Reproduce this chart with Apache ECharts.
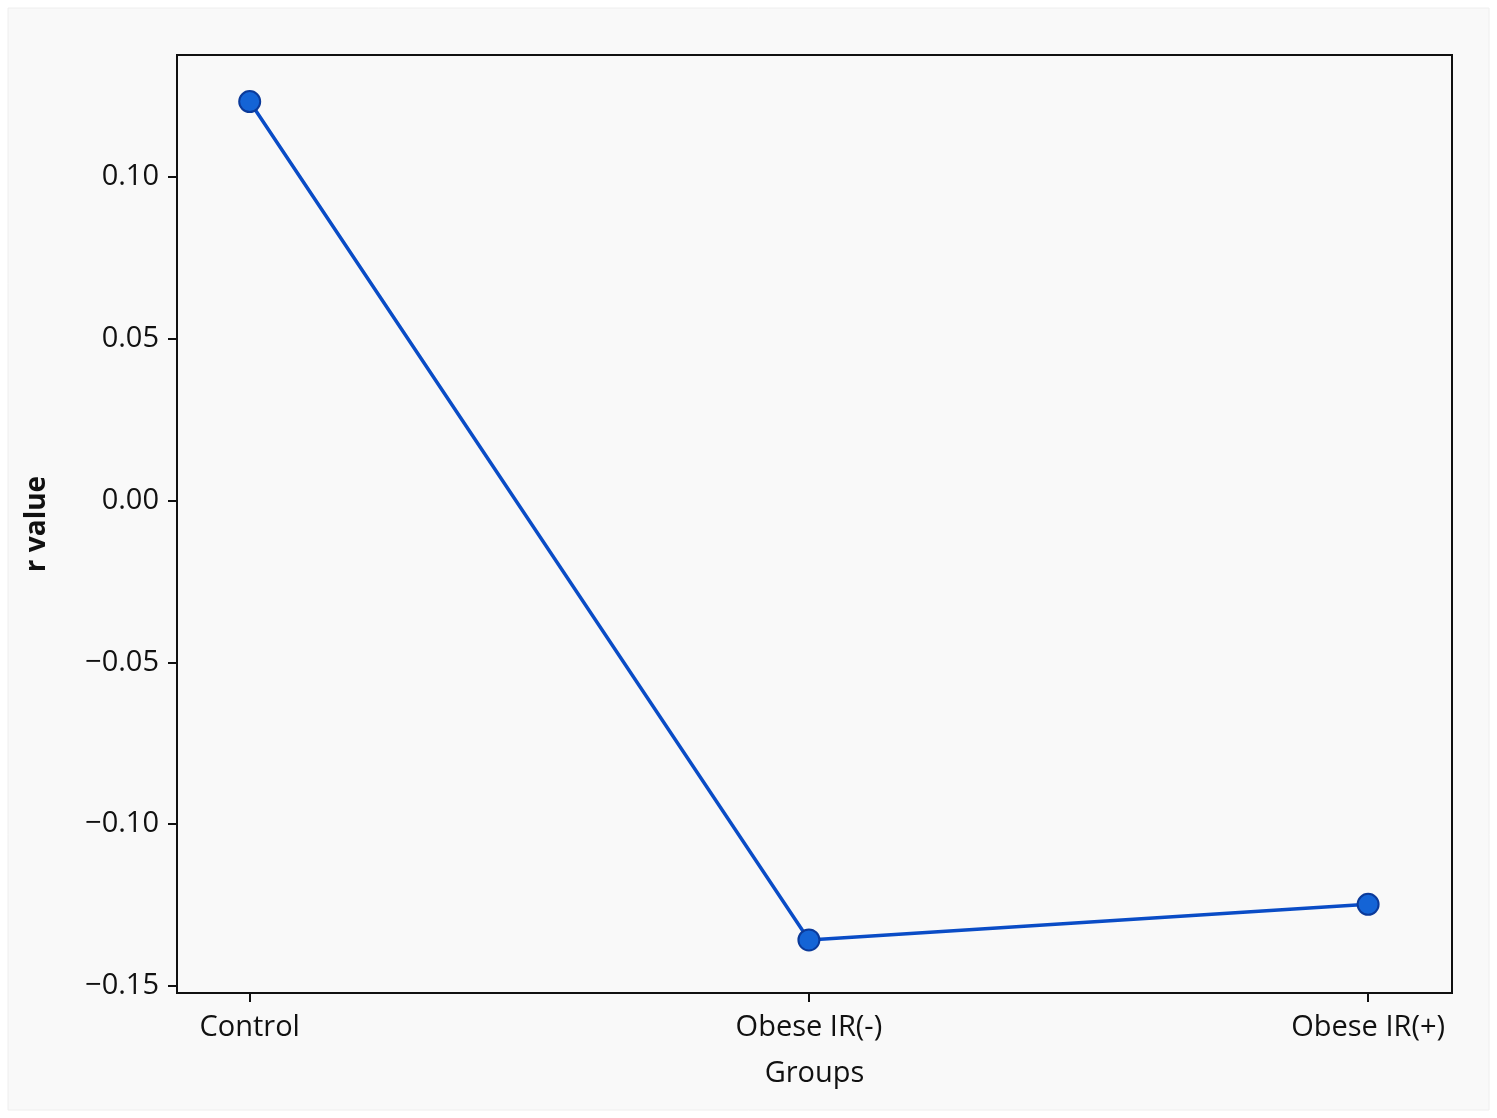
<!DOCTYPE html>
<html>
<head>
<meta charset="utf-8">
<script src="https://cdn.jsdelivr.net/npm/echarts@6/dist/echarts.min.js"></script>
<style>
html,body{margin:0;padding:0;background:#ffffff;}
#c{width:1497px;height:1118px;}
</style>
</head>
<body>
<div id="c"></div>
<script>
const categories = ["Control", "Obese IR(-)", "Obese IR(+)"];
const rValues = [0.1233, -0.1358, -0.1248];
const yTicks = [-0.15, -0.10, -0.05, 0.00, 0.05, 0.10];
const xTicks = [0, 1, 2];

const chart = echarts.init(document.getElementById('c'), null, {renderer: 'canvas'});
const font = '"Open Sans", "Noto Sans", sans-serif';
chart.setOption({
  backgroundColor: '#ffffff',
  graphic: [{
    type: 'rect', z: -10, silent: true,
    shape: {x: 8, y: 8, width: 1481, height: 1102},
    style: {fill: '#f9f9f9', stroke: '#eeeeee', lineWidth: 1}
  }],
  grid: {left: 177, right: 45, top: 55, bottom: 125, show: true, borderColor: '#111', borderWidth: 2, backgroundColor: 'transparent'},
  xAxis: {
    type: 'value', min: -0.13, max: 2.15,
    name: 'Groups', nameLocation: 'middle', nameGap: 66,
    nameTextStyle: {fontFamily: font, fontSize: 29, color: '#111'},
    axisLine: {show: true, onZero: false, lineStyle: {color: '#111', width: 2}},
    axisTick: {show: true, length: 9, lineStyle: {color: '#111', width: 2}, customValues: xTicks},
    axisLabel: {customValues: xTicks, margin: 20, fontFamily: font, fontSize: 29, color: '#111',
      formatter: v => categories[Math.round(v)]},
    splitLine: {show: false}
  },
  yAxis: {
    type: 'value', min: -0.1522, max: 0.1377,
    name: 'r value', nameLocation: 'middle', nameGap: 126, nameRotate: 90,
    nameTextStyle: {fontFamily: font, fontSize: 28, fontWeight: 'bold', color: '#111'},
    axisLine: {show: true, onZero: false, lineStyle: {color: '#111', width: 2}},
    axisTick: {show: true, length: 9, lineStyle: {color: '#111', width: 2}, customValues: yTicks},
    axisLabel: {customValues: yTicks, margin: 18, fontFamily: font, fontSize: 29, color: '#111',
      formatter: v => v.toFixed(2).replace('-', '\u2212')},
    splitLine: {show: false}
  },
  series: [{
    type: 'line',
    data: rValues.map((v, i) => [xTicks[i], v]),
    symbol: 'circle', symbolSize: 21,
    lineStyle: {color: '#0a4cc6', width: 3.5},
    itemStyle: {color: '#1464d6', borderColor: '#0b3a9a', borderWidth: 2},
    animation: false
  }]
});
</script>
</body>
</html>
